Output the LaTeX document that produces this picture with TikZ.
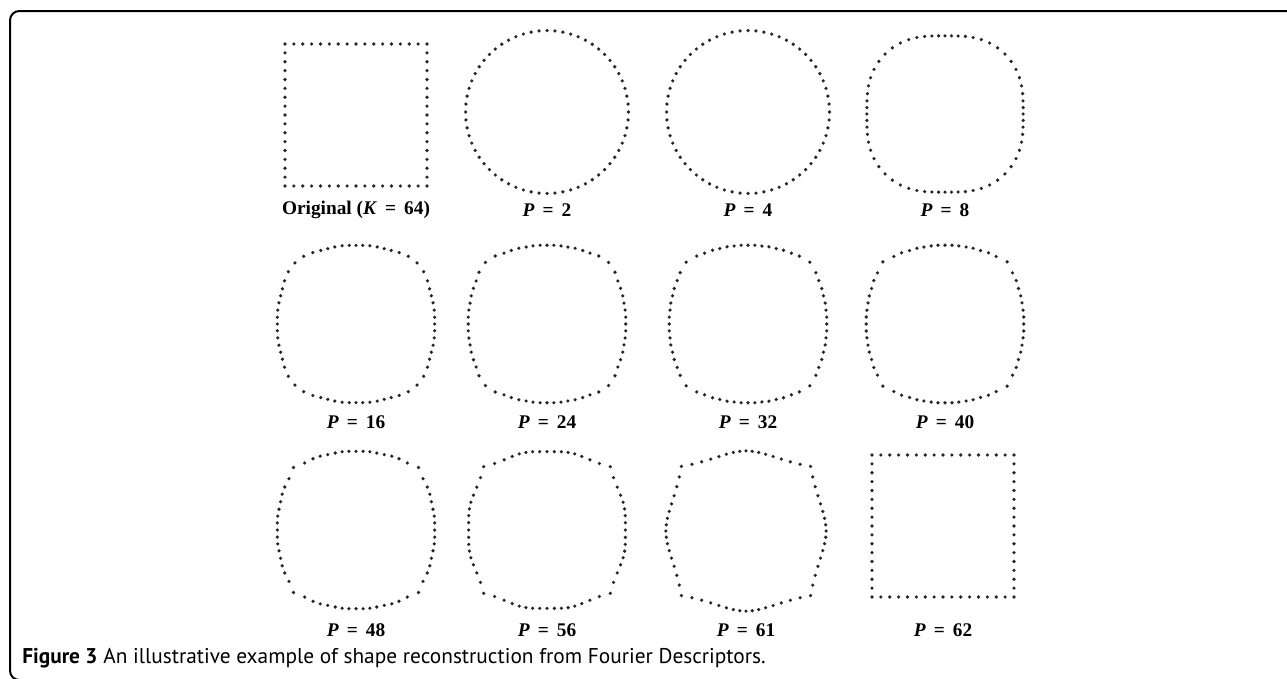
\documentclass[tikz,border=0pt]{standalone}
\usepackage{fontspec}
\setmainfont{Liberation Serif}
\newfontfamily\capfont{PT Sans}
\usetikzlibrary{calc}

% half side of the square, in px
\def\fdside{71}
% DFT coefficients a(u) of the 64-point square (only u = 1 mod 4 are non-zero)
\newcommand\fdcoefs{%
  \foreach \u in {1,5,...,61}{%
    \gdef\fdre{0}\gdef\fdim{0}%
    \foreach \k in {0,...,15}{%
      \pgfmathsetmacro\fdy{-1+\k/8}%
      \pgfmathsetmacro\fdt{5.625*mod(\u*\k,64)}%
      \pgfmathsetmacro\fdc{cos(\fdt)}\pgfmathsetmacro\fds{sin(\fdt)}%
      \pgfmathparse{\fdre+4*(\fdc+\fdy*\fds)}\xdef\fdre{\pgfmathresult}%
      \pgfmathparse{\fdim+4*(\fdy*\fdc-\fds)}\xdef\fdim{\pgfmathresult}%
    }%
    \expandafter\xdef\csname fdre\u\endcsname{\fdre}%
    \expandafter\xdef\csname fdim\u\endcsname{\fdim}%
  }}
% reconstruction from the first #2 coefficients, drawn round coordinate #1
\newcommand\fdshape[2]{%
  \foreach \k in {0,...,15}{%
    \gdef\fdx{0}\gdef\fdv{0}%
    \foreach \u in {1,5,...,61}{%
      \ifnum\u<#2\relax
        \pgfmathsetmacro\fdt{5.625*mod(\u*\k,64)}%
        \pgfmathsetmacro\fdc{cos(\fdt)}\pgfmathsetmacro\fds{sin(\fdt)}%
        \pgfmathparse{\fdx+\csname fdre\u\endcsname*\fdc-\csname fdim\u\endcsname*\fds}\xdef\fdx{\pgfmathresult}%
        \pgfmathparse{\fdv+\csname fdre\u\endcsname*\fds+\csname fdim\u\endcsname*\fdc}\xdef\fdv{\pgfmathresult}%
      \fi}%
    \pgfmathsetmacro\fdx{\fdx*\fdside/64}\pgfmathsetmacro\fdv{\fdv*\fdside/64}%
    \foreach \m in {0,...,3}
      \fill[fddot, shift={(#1)}, rotate=90*\m] (\fdx,\fdv) circle[radius=1.35pt];
  }}

\tikzset{
  fddot/.style={fill=black!85},
  plabel/.style={font=\fontsize{14.5}{16}\selectfont\bfseries},
  frame/.style={line width=1.5pt, rounded corners=7pt}
}

\begin{document}
\begin{tikzpicture}[x=0.75pt, y=-0.75pt]
  \useasboundingbox (0,0) rectangle (1287,678);
  % frame, open to the right and below
  \draw[frame] (24,680) -- (10,680) -- (10,11) -- (1300,11);
  % centres of the shapes
  \coordinate (orig) at (356,115);
  \coordinate (p2)   at (547,112);
  \coordinate (p4)   at (748,112);
  \coordinate (p8)   at (945,114);
  \coordinate (p16)  at (356,324);
  \coordinate (p24)  at (547,324);
  \coordinate (p32)  at (748,324);
  \coordinate (p40)  at (945,324);
  \coordinate (p48)  at (356,530);
  \coordinate (p56)  at (547,530);
  \coordinate (p61)  at (746,531);
  \coordinate (p62)  at (943,526);
  % the reconstructions
  \fdcoefs
  \fdshape{orig}{64}
  \fdshape{p2}{2}
  \fdshape{p4}{4}
  \fdshape{p8}{8}
  \fdshape{p16}{16}
  \fdshape{p24}{24}
  \fdshape{p32}{32}
  \fdshape{p40}{40}
  \fdshape{p48}{48}
  \fdshape{p56}{56}
  \fdshape{p61}{61}
  \fdshape{p62}{62}
  % labels under the shapes
  \node[plabel] (lorig) at (356,210) {Original (\textit{K}\, = \,64)};
  \node[plabel] (l2)  at (547,210) {\textit{P}\, = \,2};
  \node[plabel] (l4)  at (748,210) {\textit{P}\, = \,4};
  \node[plabel] (l8)  at (945,210) {\textit{P}\, = \,8};
  \node[plabel] (l16) at (356,422) {\textit{P}\, = \,16};
  \node[plabel] (l24) at (547,422) {\textit{P}\, = \,24};
  \node[plabel] (l32) at (748,422) {\textit{P}\, = \,32};
  \node[plabel] (l40) at (945,422) {\textit{P}\, = \,40};
  \node[plabel] (l48) at (356,630) {\textit{P}\, = \,48};
  \node[plabel] (l56) at (547,630) {\textit{P}\, = \,56};
  \node[plabel] (l61) at (746,630) {\textit{P}\, = \,61};
  \node[plabel] (l62) at (943,630) {\textit{P}\, = \,62};
  % caption
  \node[anchor=west, inner sep=0pt, font=\capfont\fontsize{16}{18}\selectfont] (cap) at (22,658)
    {\textbf{Figure 3} An illustrative example of shape reconstruction from Fourier Descriptors.};
\end{tikzpicture}
\end{document}
